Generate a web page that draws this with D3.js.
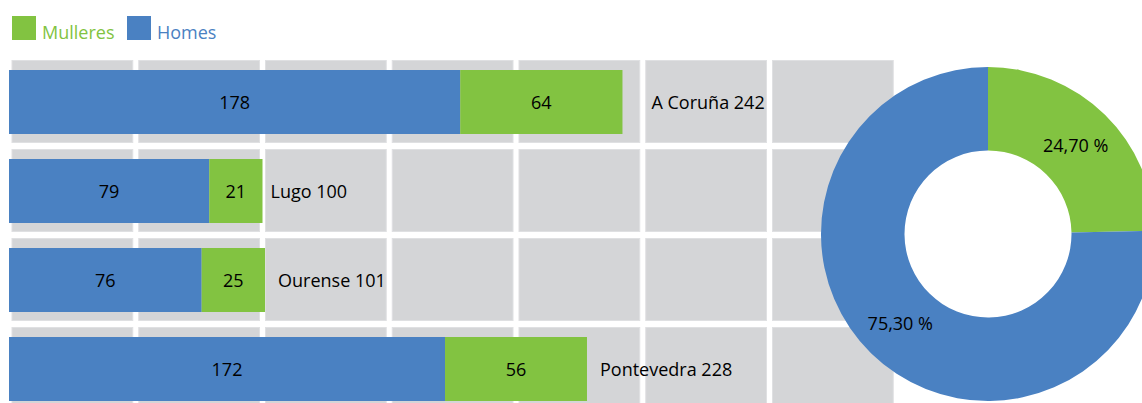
<!DOCTYPE html>
<html>
<head>
<meta charset="utf-8">
<script src="https://cdn.jsdelivr.net/npm/d3@7"></script>
<style>
  html, body { margin: 0; padding: 0; background: #fff; }
  svg { display: block; }
  text { font-family: "Open Sans", sans-serif; }
</style>
</head>
<body>
<svg id="chart" width="1142" height="403"></svg>
<script>
// ---- data ----
const provinces = ["A Coruña", "Lugo", "Ourense", "Pontevedra"];
const homes = [178, 79, 76, 172];
const mulleres = [64, 21, 25, 56];
const totals = [242, 100, 101, 228];
const seriesNames = ["Mulleres", "Homes"];
const pieLabels = ["24,70 %", "75,30 %"];
const pieValues = [24.70, 75.30];
const gridTicks = [0, 50, 100, 150, 200, 250, 300, 350];

// ---- style ----
const BLUE = "#4a81c2", GREEN = "#82c341", CELL = "#d4d5d7", CELL_EDGE = "#dfe0e2";
const labelGap = [29, 8, 13, 13];

const svg = d3.select("#chart");

// scales
const x = d3.scaleLinear().domain([0, 350]).range([9, 9 + 350 * 2.535]);
const rowScale = d3.scaleBand().domain(provinces).range([60, 410]).paddingInner(6 / 89);
const barScale = d3.scaleBand().domain(provinces).range([70, 401]).paddingInner(25 / 89);
const color = d3.scaleOrdinal().domain(seriesNames).range([GREEN, BLUE]);

// grid cells
const cells = [];
provinces.forEach(p => {
  for (let i = 0; i < gridTicks.length - 1; i++) cells.push({p, a: gridTicks[i], b: gridTicks[i + 1]});
});
svg.append("g").selectAll("rect").data(cells).join("rect")
  .attr("x", d => x(d.a) + 3)
  .attr("y", d => rowScale(d.p) + 0.5)
  .attr("width", d => x(d.b) - x(d.a) - 6)
  .attr("height", rowScale.bandwidth() - 1)
  .attr("fill", CELL)
  .attr("stroke", CELL_EDGE)
  .attr("stroke-width", 1);

// bars
const rows = provinces.map((p, i) => ({p, h: homes[i], m: mulleres[i], t: totals[i], gap: labelGap[i]}));
const g = svg.append("g");
const bh = barScale.bandwidth();

g.selectAll(".bh").data(rows).join("rect")
  .attr("x", x(0)).attr("y", d => barScale(d.p))
  .attr("width", d => x(d.h) - x(0)).attr("height", bh)
  .attr("fill", color("Homes"));
g.selectAll(".bm").data(rows).join("rect")
  .attr("x", d => x(d.h)).attr("y", d => barScale(d.p))
  .attr("width", d => x(d.h + d.m) - x(d.h)).attr("height", bh)
  .attr("fill", color("Mulleres"));

const ts = "18px";
g.selectAll(".th").data(rows).join("text")
  .attr("x", d => (x(0) + x(d.h)) / 2).attr("y", d => barScale(d.p) + bh / 2 + 7)
  .attr("text-anchor", "middle").attr("font-size", ts).attr("fill", "#000")
  .text(d => d.h);
g.selectAll(".tm").data(rows).join("text")
  .attr("x", d => (x(d.h) + x(d.h + d.m)) / 2).attr("y", d => barScale(d.p) + bh / 2 + 7)
  .attr("text-anchor", "middle").attr("font-size", ts).attr("fill", "#000")
  .text(d => d.m);
g.selectAll(".tl").data(rows).join("text")
  .attr("x", d => x(d.h + d.m) + d.gap).attr("y", d => barScale(d.p) + bh / 2 + 7)
  .attr("font-size", ts).attr("fill", "#000")
  .text(d => d.p + " " + d.t);

// legend
const leg = svg.append("g");
const legX = [12, 127];
seriesNames.forEach((s, i) => {
  leg.append("rect").attr("x", legX[i]).attr("y", 16).attr("width", 24).attr("height", 24).attr("fill", color(s));
  leg.append("text").attr("x", legX[i] + 30).attr("y", 39).attr("font-size", "18px").attr("fill", color(s)).text(s);
});

// donut
const cx = 988, cy = 234, R = 167, r = 83.5;
const pie = d3.pie().sort(null).value(d => d.v);
const arcs = pie(seriesNames.map((s, i) => ({s, v: pieValues[i], label: pieLabels[i]})));
const arc = d3.arc().innerRadius(r).outerRadius(R);
const dg = svg.append("g").attr("transform", `translate(${cx},${cy})`);
dg.selectAll("path").data(arcs).join("path")
  .attr("d", arc).attr("fill", d => color(d.data.s));
dg.selectAll("text").data(arcs).join("text")
  .attr("transform", d => { const c = arc.centroid(d); return `translate(${c[0]},${c[1] + 7})`; })
  .attr("text-anchor", "middle").attr("font-size", "18px").attr("fill", "#000")
  .text(d => d.data.label);
</script>
</body>
</html>
